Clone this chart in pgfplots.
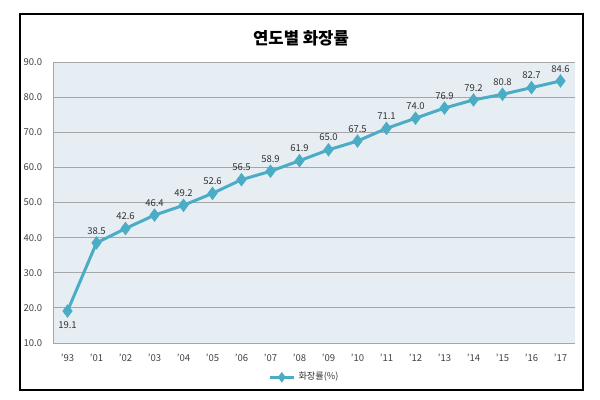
\documentclass[border=0pt]{standalone}
\usepackage{pgfplots}
\pgfplotsset{compat=1.18}
\usepackage{fontspec}
\setmainfont{Noto Sans CJK KR}
\definecolor{ln}{HTML}{4BACC6}
\definecolor{bg}{HTML}{E6EEF3}
\definecolor{gridc}{HTML}{A6A6A6}
\begin{document}
\begin{tikzpicture}
\path[use as bounding box] (0pt,0pt) rectangle (360pt,239.4pt);
\draw[line width=1.3pt,black] (12pt,5.4pt) rectangle (349.8pt,231pt);
\node[font=\fontsize{10}{12}\selectfont\bfseries] at (180.6pt,216.6pt) {연도별 화장률};
\begin{axis}[
  at={(31.8pt,33.6pt)}, anchor=south west,
  scale only axis, width=313.2pt, height=168.6pt,
  xmin=-0.5, xmax=17.5, ymin=10, ymax=90,
  ytick={10,20,...,90},
  xtick={0,...,17},
  xticklabels={'93,'01,'02,'03,'04,'05,'06,'07,'08,'09,'10,'11,'12,'13,'14,'15,'16,'17},
  /pgf/number format/.cd, fixed, fixed zerofill, precision=1, assume math mode=true,
  /pgfplots/.cd,
  axis background/.style={fill=bg},
  ymajorgrids, grid style={gridc, line width=0.5pt},
  axis line style={gridc},
  axis x line*=bottom, axis y line*=left,
  tick style={draw=none},
  tick label style={font=\fontsize{5.7}{6.5}\selectfont, text=black!75},
  xticklabel style={yshift=-3pt},
  yticklabel style={xshift=-3pt},
  clip=false,
  legend style={at={(0.483,-0.122)}, anchor=center, draw=none, fill=none,
    font=\fontsize{5.5}{6.5}\selectfont, text=black!80},
  legend image code/.code={
    \draw[#1, mark=none] (0cm,0cm) -- (0.5cm,0cm);
    \draw[#1, only marks, mark size=1.7pt] plot coordinates {(0.25cm,0cm)};
  },
]
\addplot[ln, line width=1.8pt, mark=diamond*, mark size=2.6pt, mark options={solid, fill=ln, draw=ln},
  nodes near coords, point meta=explicit symbolic,
  every node near coord/.append style={font=\fontsize{5.7}{6.5}\selectfont, text=black!80, anchor=south, yshift=1pt}]
table[meta=lab] {
x y lab
0 19.1 {}
1 38.5 38.5
2 42.6 42.6
3 46.4 46.4
4 49.2 49.2
5 52.6 52.6
6 56.5 56.5
7 58.9 58.9
8 61.9 61.9
9 65.0 65.0
10 67.5 67.5
11 71.1 71.1
12 74.0 74.0
13 76.9 76.9
14 79.2 79.2
15 80.8 80.8
16 82.7 82.7
17 84.6 84.6
};
\addlegendentry{화장률(\%)}
\addplot[draw=none, mark=none, forget plot, nodes near coords, point meta=explicit symbolic,
  every node near coord/.append style={font=\fontsize{5.7}{6.5}\selectfont, text=black!80, anchor=north, yshift=-3pt}]
table[meta=lab] {
x y lab
0 19.1 19.1
};
\end{axis}
\end{tikzpicture}
\end{document}
